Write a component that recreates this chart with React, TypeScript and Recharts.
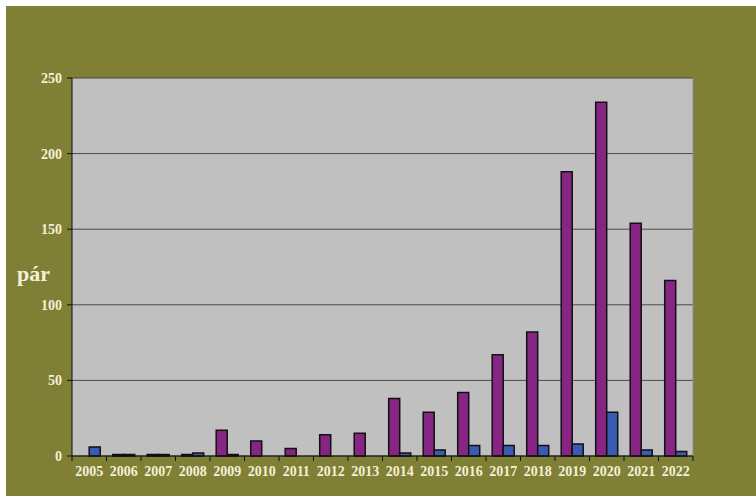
import {BarChart, Bar, XAxis, YAxis, CartesianGrid, Label} from 'recharts';

const years = ['2005', '2006', '2007', '2008', '2009', '2010', '2011', '2012', '2013',
  '2014', '2015', '2016', '2017', '2018', '2019', '2020', '2021', '2022'];
// lila oszlop
const purpleValues = [0, 1, 1, 1, 17, 10, 5, 14, 15, 38, 29, 42, 67, 82, 188, 234, 154, 116];
// kék oszlop
const blueValues = [6, 1, 1, 2, 1, 0, 0, 0, 0, 2, 4, 7, 7, 7, 8, 29, 4, 3];
const yTicks = [0, 50, 100, 150, 200, 250];

const data = years.map((year, i) => ({year, purple: purpleValues[i], blue: blueValues[i]}));

const OLIVE = '#7f8035';
const CREAM = '#f4f0d6';
const FONT = '"Liberation Serif", "Times New Roman", serif';
const PLOT_WIDTH = 621;
const BAND = PLOT_WIDTH / years.length;

// excel-szerű osztásjelek a kategóriák között
function XTick(props: any) {
  const {x, y, payload, index} = props;
  return (
    <g>
      <line x1={x + BAND / 2} x2={x + BAND / 2} y1={y - 9} y2={y - 4} stroke="#111" />
      {index === 0 && <line x1={x - BAND / 2} x2={x - BAND / 2} y1={y - 9} y2={y - 4} stroke="#111" />}
      <text x={x} y={y} dy="0.75em" textAnchor="middle" fill={CREAM}
        fontFamily={FONT} fontWeight="bold" fontSize={14}>
        {payload.value}
      </text>
    </g>
  );
}

export default function App() {
  return (
    <div style={{position: 'absolute', left: 0, top: 0, width: 756, height: 496, background: '#fff'}}>
      <div style={{position: 'absolute', left: 6, top: 6, width: 750, height: 490, background: OLIVE}}>
        <BarChart
          width={750}
          height={490}
          data={data}
          margin={{top: 72, right: 63, left: 0, bottom: 10}}
          barCategoryGap="18%"
          barGap={0}
        >
          <CartesianGrid vertical={false} horizontal={true} stroke="#4a4a4a" fill="#c0c0c0" />
          <CartesianGrid
            horizontal={false}
            stroke="#8c8c8c"
            verticalCoordinatesGenerator={({offset}: any) => [offset.left + offset.width]}
          />
          <XAxis
            dataKey="year"
            height={30}
            stroke="#111"
            tickLine={false}
            tickSize={5}
            tickMargin={4}
            interval={0}
            tick={<XTick />}
          />
          <YAxis
            width={66}
            domain={[0, 250]}
            ticks={yTicks}
            stroke="#111"
            tickSize={5}
            tickMargin={5}
            tick={{fill: CREAM, fontFamily: FONT, fontWeight: 'bold', fontSize: 14}}
          >
            <Label value="pár" position="insideLeft" offset={11} dy={6}
              fill={CREAM} fontFamily={FONT} fontWeight="bold" fontSize={22} />
          </YAxis>
          <Bar dataKey="purple" fill="#862584" stroke="#111" strokeWidth={1.5} isAnimationActive={false} />
          <Bar dataKey="blue" fill="#3a5bb3" stroke="#111" strokeWidth={1.5} isAnimationActive={false} />
        </BarChart>
      </div>
    </div>
  );
}
